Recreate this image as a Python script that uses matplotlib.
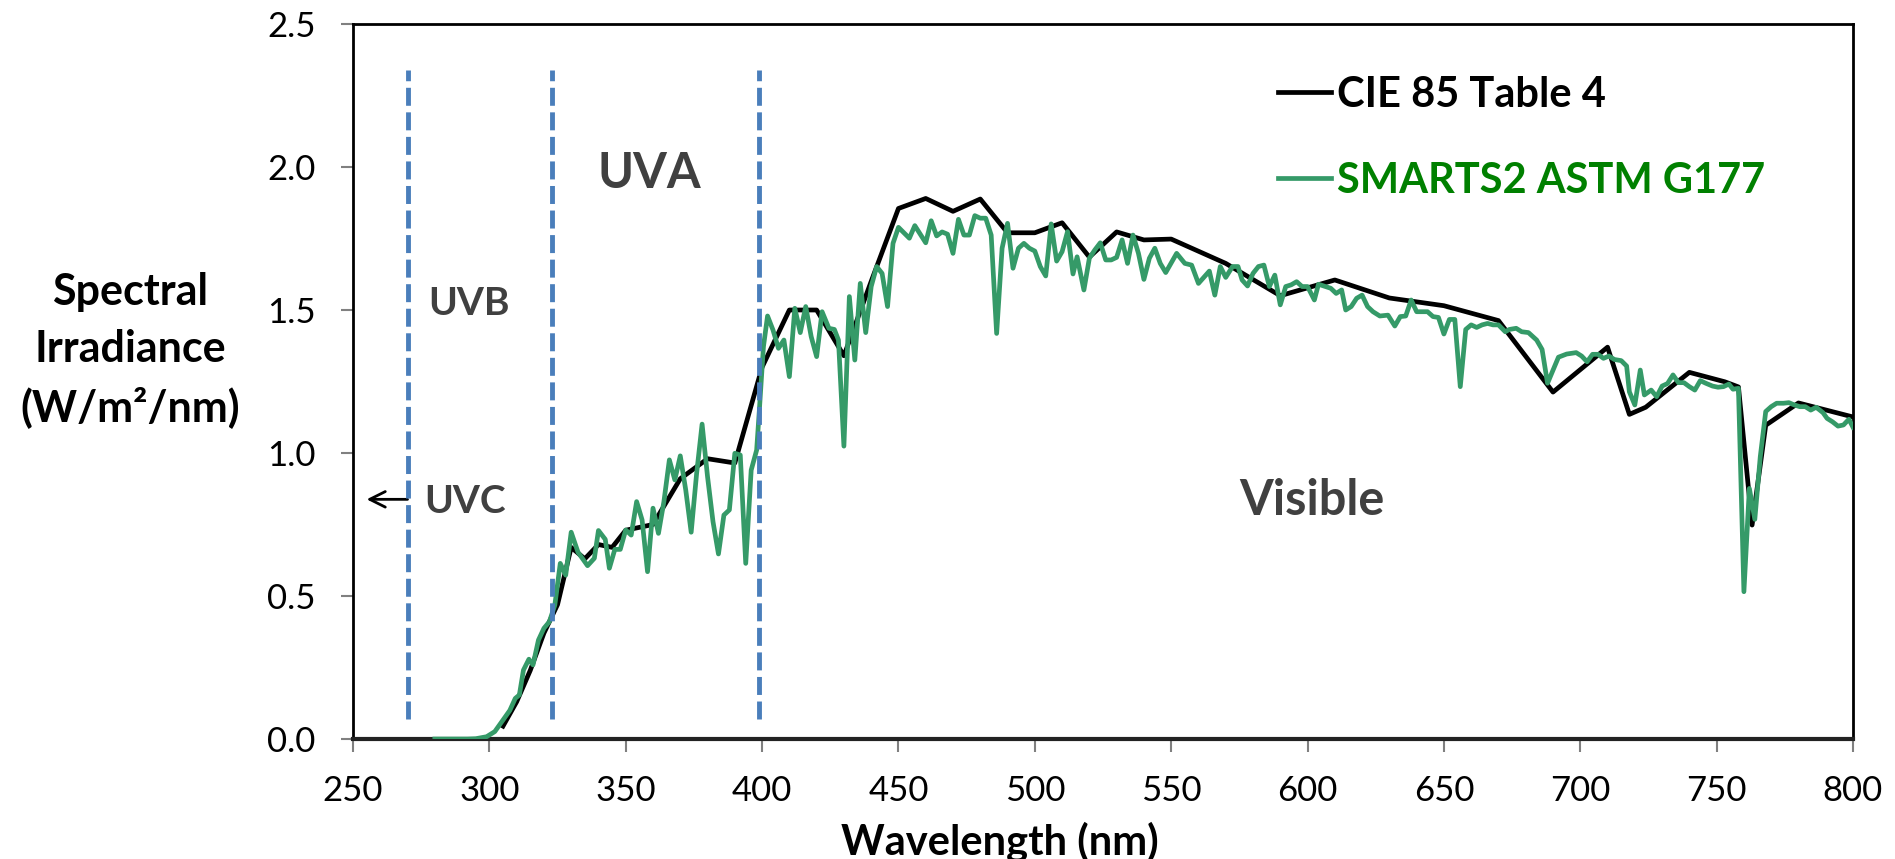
import matplotlib
matplotlib.use("Agg")
import matplotlib.pyplot as plt
from matplotlib.ticker import FormatStrFormatter

plt.rcParams['font.family'] = ['Lato', 'DejaVu Sans']

# CIE 85 Table 4 reference spectrum (W/m2/nm)
cie_nm = [305, 310, 315, 320, 325, 330, 335, 340, 345, 350, 360, 370, 380, 390,
          400, 410, 420, 430, 440, 450, 460, 470, 480, 490, 500, 510, 520, 530,
          540, 550, 570, 590, 610, 630, 650, 670, 690, 710, 718, 724, 740, 753,
          758, 763, 768, 780, 800]
cie_val = [0.045, 0.13, 0.24, 0.37, 0.47, 0.67, 0.63, 0.68, 0.67, 0.73, 0.75, 0.91,
           0.98, 0.965, 1.30, 1.50, 1.50, 1.34, 1.60, 1.855, 1.89, 1.845, 1.888,
           1.77, 1.77, 1.805, 1.685, 1.773, 1.745, 1.748, 1.663, 1.55, 1.605,
           1.542, 1.515, 1.463, 1.213, 1.37, 1.135, 1.16, 1.282, 1.249, 1.231,
           0.748, 1.097, 1.175, 1.126]

# SMARTS2 model run for ASTM G177 conditions
smarts_nm = [280, 284, 288, 292, 295, 299, 302, 305, 307.5, 309.5, 311, 312.5, 314.5,
             316, 318, 320, 322, 324, 326, 328, 330, 332.5, 336, 338.5, 340, 342.5,
             344, 346, 348, 350, 352, 354, 356, 358, 360, 362, 364, 366, 368, 370,
             372, 374, 376, 378, 380, 382, 384, 386, 388, 390, 392, 394, 396, 398,
             399, 400.5, 402, 404, 406, 408, 410, 412, 414, 416, 418, 420, 422, 424.5,
             426.5, 428, 430, 432, 434, 436, 438, 440, 442, 444, 446, 448, 450, 454,
             456, 460, 462, 464, 466, 468, 470, 472, 474, 476, 478, 480, 482, 484,
             486, 488, 490, 492, 494, 496, 498, 500, 502, 504, 506, 508, 510, 512,
             514, 515.5, 518, 520, 522, 524, 526, 528, 530, 532, 534, 536, 538, 540,
             542, 544, 546, 548, 552, 555, 557.5, 560, 564, 566, 568, 570, 572.5,
             574.5, 576, 578, 580, 582, 584, 586, 588, 590, 592, 594, 596, 598, 600,
             602.5, 604, 606.5, 608.5, 610.5, 612.5, 614, 616, 618, 620, 622, 624,
             626.5, 629.5, 632, 634, 636, 638, 640, 642, 644, 646, 648, 650, 652,
             654, 656, 658, 660, 662, 664, 666, 668, 670, 672.5, 674, 676.5, 678.5,
             681, 684, 686, 688, 690, 692, 695, 698.5, 700.5, 702.5, 704.5, 706.5,
             708.5, 710.5, 712.5, 715, 717, 718, 720, 722, 723.5, 726, 728, 730, 732,
             734, 736, 738, 740, 742, 744, 746, 748.5, 750.5, 752.5, 754.5, 756, 758,
             760, 762, 764, 766, 768, 770, 772, 774.5, 776.5, 778.5, 780.5, 782.5,
             784.5, 786.5, 789, 790.5, 792.5, 794.5, 796.5, 798.5, 800]
smarts_val = [0.0, 0.0, 0.0, 0.0, 0.001, 0.008, 0.026, 0.066, 0.10, 0.142, 0.154, 0.241,
              0.279, 0.259, 0.346, 0.387, 0.41, 0.468, 0.614, 0.573, 0.723, 0.653, 0.606,
              0.632, 0.729, 0.698, 0.597, 0.663, 0.663, 0.731, 0.713, 0.83, 0.766, 0.585,
              0.807, 0.719, 0.83, 0.976, 0.906, 0.99, 0.871, 0.723, 0.929, 1.101, 0.917,
              0.76, 0.647, 0.783, 0.801, 0.999, 0.993, 0.614, 0.94, 1.01, 1.15, 1.372,
              1.479, 1.43, 1.366, 1.395, 1.267, 1.506, 1.421, 1.512, 1.407, 1.337, 1.494,
              1.436, 1.432, 1.395, 1.024, 1.547, 1.325, 1.593, 1.421, 1.582, 1.652, 1.628,
              1.512, 1.733, 1.789, 1.751, 1.795, 1.735, 1.812, 1.759, 1.773, 1.765, 1.698,
              1.817, 1.762, 1.762, 1.83, 1.821, 1.821, 1.762, 1.418, 1.716, 1.803, 1.646,
              1.716, 1.733, 1.716, 1.706, 1.652, 1.619, 1.801, 1.671, 1.704, 1.774, 1.626,
              1.686, 1.57, 1.681, 1.71, 1.735, 1.675, 1.675, 1.684, 1.745, 1.663, 1.762,
              1.698, 1.607, 1.681, 1.716, 1.663, 1.631, 1.698, 1.663, 1.657, 1.593, 1.636,
              1.552, 1.652, 1.614, 1.652, 1.652, 1.605, 1.584, 1.628, 1.652, 1.657, 1.582,
              1.622, 1.518, 1.582, 1.588, 1.599, 1.582, 1.582, 1.535, 1.59, 1.582, 1.576,
              1.558, 1.57, 1.50, 1.512, 1.541, 1.552, 1.512, 1.494, 1.479, 1.482, 1.444,
              1.477, 1.479, 1.535, 1.494, 1.494, 1.494, 1.477, 1.474, 1.416, 1.467, 1.467,
              1.232, 1.432, 1.448, 1.439, 1.448, 1.453, 1.448, 1.448, 1.424, 1.432, 1.436,
              1.424, 1.421, 1.395, 1.362, 1.244, 1.29, 1.335, 1.346, 1.351, 1.339, 1.319,
              1.345, 1.345, 1.331, 1.339, 1.327, 1.323, 1.304, 1.214, 1.168, 1.29, 1.203,
              1.22, 1.197, 1.234, 1.243, 1.273, 1.246, 1.246, 1.232, 1.22, 1.253, 1.244,
              1.234, 1.23, 1.232, 1.241, 1.223, 1.226, 0.515, 0.876, 0.768, 0.987, 1.145,
              1.162, 1.174, 1.174, 1.176, 1.168, 1.162, 1.162, 1.15, 1.16, 1.141, 1.121,
              1.109, 1.094, 1.098, 1.118, 1.09]

# band edges (nm) and band labels: (text, x, baseline y, size)
band_edges = [270, 323, 399]
band_labels = [("UVA", 339.5, 1.927, 35),
               ("UVB", 277.5, 1.483, 28),
               ("UVC", 276.0, 0.790, 28),
               ("Visible", 575.0, 0.783, 35)]

fig = plt.figure(figsize=(18.95, 8.59), dpi=100)
ax = fig.add_axes([353 / 1895, 120 / 859, 1500 / 1895, 715 / 859])

ax.plot(cie_nm, cie_val, color='black', lw=3.4, solid_joinstyle='round',
        label='CIE 85 Table 4', zorder=3)
ax.plot(smarts_nm, smarts_val, color='#359a68', lw=3.4, solid_joinstyle='round',
        label='SMARTS2 ASTM G177', zorder=4)

for edge in band_edges:
    ax.plot([edge, edge], [0.07, 2.34], color='#4a7ebb', lw=3.5,
            linestyle=(0, (3.7, 1.35)), zorder=5)

for text, x, y, size in band_labels:
    ax.text(x, y, text, fontsize=size, fontweight='bold', color='#404040',
            ha='left', va='baseline')

# arrow pointing out of the chart towards the UVC band
ax.annotate('', xy=(255.0, 0.838), xytext=(270, 0.838),
            arrowprops=dict(arrowstyle='->', color='black', lw=2,
                            mutation_scale=28, shrinkA=0, shrinkB=0))

ax.set_xlim(250, 800)
ax.set_ylim(0, 2.5)
ax.set_xticks(range(250, 801, 50))
ax.set_yticks([0, 0.5, 1.0, 1.5, 2.0, 2.5])
ax.yaxis.set_major_formatter(FormatStrFormatter('%.1f'))
ax.tick_params(axis='both', direction='out', length=9, width=1.5, color='#808080',
               labelsize=25, labelcolor='black')
ax.tick_params(axis='x', pad=17)
ax.tick_params(axis='y', pad=18)

for side in ['top', 'right', 'left']:
    ax.spines[side].set_linewidth(2)
    ax.spines[side].set_color('black')
ax.spines['bottom'].set_linewidth(3)
ax.spines['bottom'].set_color('#222222')

ax.set_xlabel('Wavelength (nm)', fontsize=30, fontweight='bold')
ax.xaxis.set_label_coords(0.431, -0.144)
ax.xaxis.label.set_va('center')

ax.set_ylabel('Spectral\nIrradiance\n(W/m²/nm)', fontsize=31, fontweight='bold',
              rotation=0, ha='center', va='center', linespacing=1.5)
ax.yaxis.set_label_coords(-0.1487, 0.544)

leg = ax.legend(loc='center left', bbox_to_anchor=(0.6167, 0.841), frameon=False,
                prop={'weight': 'bold', 'size': 30},
                labelcolor=['black', '#008000'], handlelength=1.27,
                handletextpad=0.15, labelspacing=1.15, borderpad=0,
                borderaxespad=0)

fig.savefig('out.png', dpi=100)
